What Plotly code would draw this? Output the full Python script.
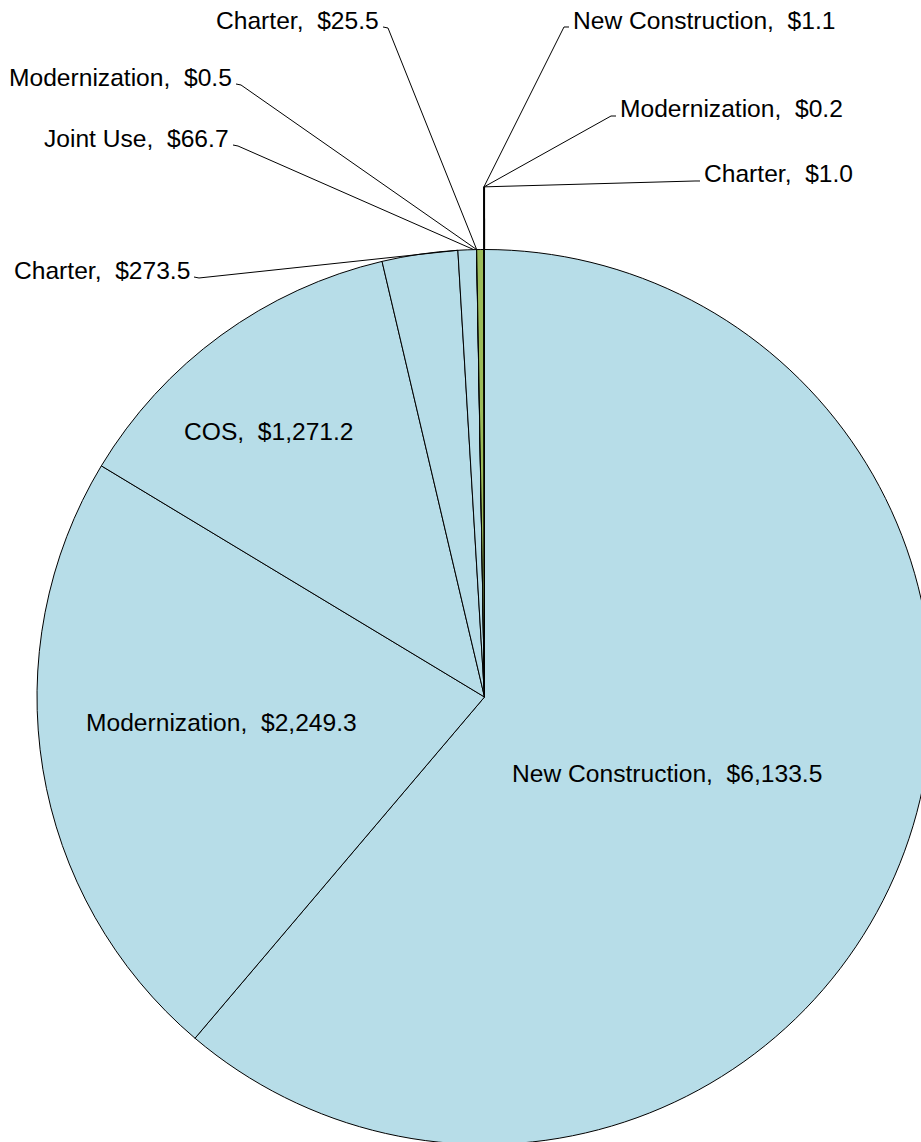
import math
import plotly.graph_objects as go

# ---- data ----
labels = ["New Construction", "Modernization", "COS", "Charter", "Joint Use",
          "Modernization", "Charter", "New Construction", "Modernization", "Charter"]
values = [6133.5, 2249.3, 1271.2, 273.5, 66.7, 0.5, 25.5, 1.1, 0.2, 1.0]
colors = ["#B7DDE8"] * 5 + ["#9BBB59"] * 5

# ---- layout constants ----
W, H = 934, 1150   # figure size (pie is cut by the window on the right and bottom)
PCX, PCY, PR = 484.5, 697, 447.5   # pie centre / radius in pixels
dom_x = [(PCX - PR) / W, (PCX + PR) / W]
dom_y = [1 - (PCY + PR) / H, 1 - (PCY - PR) / H]
cx = (dom_x[0] + dom_x[1]) / 2 * W
cy = (1 - (dom_y[0] + dom_y[1]) / 2) * H
r = min((dom_x[1] - dom_x[0]) * W, (dom_y[1] - dom_y[0]) * H) / 2

FONT = dict(family="Liberation Sans, Arial, sans-serif", size=24.6, color="black")

# inside label centres (pixels)
inside_pos = {0: (667, 773), 1: (221, 723), 2: (269, 431)}
# outside labels: (edge x next to leader, text middle y, side of the text relative to the leader)
outside_pos = {3: (192, 270, "left"), 4: (231, 138, "left"), 5: (234, 77, "left"),
               6: (381, 20, "left"), 7: (571, 20, "right"), 8: (618, 109, "right"),
               9: (702, 174, "right")}
anchor_frac = {3: 1.0, 4: 0.85, 5: 0.5, 6: 0.0}   # where along the slice the leader ends
elbow_labels = {7, 8, 9}
ELBOW = 1.14
TICK = 5


def fmt(lbl, v):
    return f"{lbl}, \u00a0${v:,.1f}"


def pp(x, y):
    return x / W, 1 - y / H


total = sum(values)
starts = []
cum = 0.0
for v in values:
    starts.append(cum)
    cum += v

fig = go.Figure(go.Pie(
    labels=[f"{l} {i}" for i, l in enumerate(labels)],
    values=values,
    sort=False,
    direction="clockwise",
    rotation=0,
    marker=dict(colors=colors, line=dict(color="black", width=1)),
    textinfo="none",
    hoverinfo="skip",
    domain=dict(x=dom_x, y=dom_y),
    showlegend=False,
))

annotations = []
shapes = []


def path(points):
    s = ""
    for k, (x, y) in enumerate(points):
        X, Y = pp(x, y)
        s += ("M" if k == 0 else " L") + f"{X:.6f},{Y:.6f}"
    return s


for i, (lbl, v) in enumerate(zip(labels, values)):
    text = fmt(lbl, v)
    if i in inside_pos:
        tx, ty = inside_pos[i]
        X, Y = pp(tx, ty)
        annotations.append(dict(x=X, y=Y, xref="paper", yref="paper", text=text,
                                showarrow=False, font=FONT, xanchor="center", yanchor="middle"))
        continue
    ex_, ty, side = outside_pos[i]
    X, Y = pp(ex_, ty)
    annotations.append(dict(x=X, y=Y, xref="paper", yref="paper", text=text,
                            showarrow=False, font=FONT,
                            xanchor="right" if side == "left" else "left", yanchor="middle"))
    sx = ex_ + 2 if side == "left" else ex_ - 2
    sy = ty + 7
    tick_x = sx + TICK if side == "left" else sx - TICK
    if i in elbow_labels:
        th = (starts[i] + v / 2) / total * 2 * math.pi
        bx = cx + ELBOW * r * math.sin(th)
        by = cy - ELBOW * r * math.cos(th)
        rx = cx + r * math.sin(th)
        ry = cy - r * math.cos(th)
        shapes.append(dict(type="path", xref="paper", yref="paper",
                           path=path([(sx, sy), (tick_x, sy), (bx, by)]),
                           line=dict(color="black", width=1)))
        shapes.append(dict(type="path", xref="paper", yref="paper",
                           path=path([(bx, by), (rx, ry)]),
                           line=dict(color="black", width=1.5)))
    else:
        th = (starts[i] + anchor_frac[i] * v) / total * 2 * math.pi
        rx = cx + r * math.sin(th)
        ry = cy - r * math.cos(th)
        shapes.append(dict(type="path", xref="paper", yref="paper",
                           path=path([(sx, sy), (tick_x, sy + 1), (rx, ry)]),
                           line=dict(color="black", width=1)))

fig.update_layout(
    width=W, height=H,
    margin=dict(l=0, r=0, t=0, b=0),
    paper_bgcolor="white", plot_bgcolor="white",
    annotations=annotations,
    shapes=shapes,
)

fig.write_html(
    "out.html",
    config={"displayModeBar": False},
    post_script=(
        "document.body.style.margin='0';"
        "document.body.style.overflow='hidden';"
        "document.documentElement.style.overflow='hidden';"
    ),
)
